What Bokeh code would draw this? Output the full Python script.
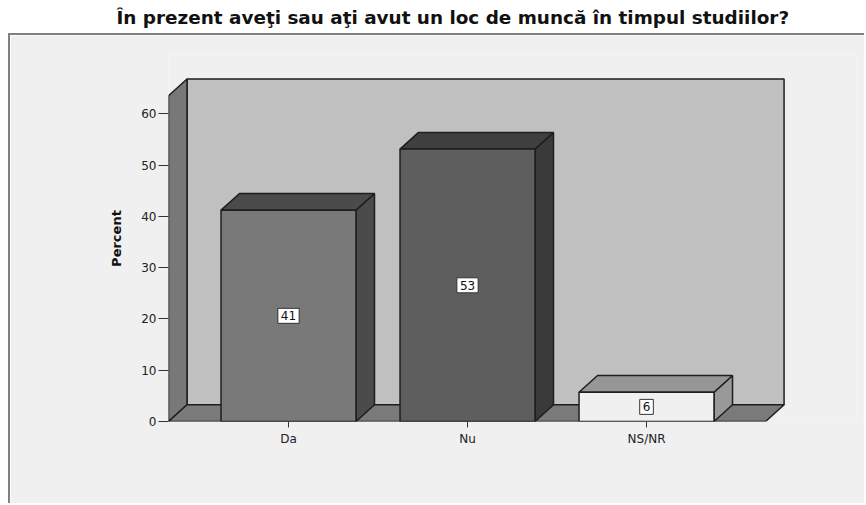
from bokeh.plotting import figure
from bokeh.layouts import column
from bokeh.models import Range1d, FixedTicker, Label
from bokeh.embed import file_html
from bokeh.resources import INLINE

# ---- data ----
title_text = "În prezent aveţi sau aţi avut un loc de muncă în timpul studiilor?"
categories = ["Da", "Nu", "NS/NR"]
percent = [41.2, 53.1, 5.7]
value_labels = ["41", "53", "6"]
y_ticks = [0, 10, 20, 30, 40, 50, 60]
axis_top = 63.5

# ---- style ----
front_colors = ["#797979", "#5e5e5e", "#f0f0f0"]
top_colors = ["#4b4b4b", "#404040", "#969696"]
side_colors = ["#4b4b4b", "#3a3a3a", "#999999"]
BG = "#f0f0f0"
EDGE = "#1e1e1e"
FONT = "DejaVu Sans"

BAR_W = 0.754
DX = 0.1034
DY = 3.26
X_LO = -0.6704
X_HI = 2.665

# ---- title strip ----
pt = figure(width=866, height=33, title=title_text,
            toolbar_location=None, output_backend="svg", min_border=0,
            x_axis_type=None, y_axis_type=None)
pt.grid.visible = False
pt.outline_line_color = None
pt.background_fill_color = "white"
pt.border_fill_color = "white"
pt.title.align = "left"
pt.title.offset = -42
pt.title.text_font = FONT
pt.title.text_font_style = "bold"
pt.title.text_font_size = "18.4px"
pt.title.text_color = "#111111"
pt.title.standoff = 9

# ---- main chart ----
p = figure(width=856, height=470, x_range=Range1d(-0.6704, 3.173), y_range=Range1d(0, 71.35),
           toolbar_location=None, output_backend="svg",
           min_border_left=158, min_border_right=10, min_border_top=20, min_border_bottom=84)
p.styles = {"margin-left": "8px", "border-left": "2px solid #808080",
            "border-top": "2px solid #808080"}
p.background_fill_color = BG
p.border_fill_color = BG
p.outline_line_color = None
p.grid.visible = False

xs_idx = list(range(len(categories)))

# back wall, left wall, floor
p.patch([X_LO + DX, X_HI + DX, X_HI + DX, X_LO + DX], [DY, DY, axis_top + DY, axis_top + DY],
        fill_color="#c0c0c0", line_color=EDGE, line_width=1.5)
p.patch([X_LO, X_LO + DX, X_LO + DX, X_LO], [0, DY, axis_top + DY, axis_top],
        fill_color="#787878", line_color=EDGE, line_width=1.5)
p.patch([X_LO, X_HI, X_HI + DX, X_LO + DX], [0, 0, DY, DY],
        fill_color="#7a7a7a", line_color=EDGE, line_width=1.5)

for i, v in zip(xs_idx, percent):
    l, r = i - BAR_W / 2, i + BAR_W / 2
    p.patch([r, r + DX, r + DX, r], [0, DY, v + DY, v],
            fill_color=side_colors[i], line_color=EDGE, line_width=1.5)
    p.patch([l, r, r + DX, l + DX], [v, v, v + DY, v + DY],
            fill_color=top_colors[i], line_color=EDGE, line_width=1.5)
    p.quad(left=[l], right=[r], bottom=[0], top=[v],
           fill_color=front_colors[i], line_color=EDGE, line_width=1.5)
    p.add_layout(Label(x=i, y=v / 2, text=value_labels[i], text_align="center",
                       text_baseline="middle", text_font=FONT, text_font_size="12px",
                       text_color="#111111", background_fill_color="white",
                       border_line_color="#333333", border_line_width=1, padding=3))

# axes
xa = p.xaxis[0]
xa.ticker = FixedTicker(ticks=xs_idx)
xa.major_label_overrides = {i: c for i, c in zip(xs_idx, categories)}
xa.axis_line_color = None
xa.major_tick_out = 6
xa.major_tick_in = 0
xa.major_tick_line_color = "#333333"
xa.minor_tick_line_color = None
xa.major_label_standoff = 4
xa.major_label_text_font = FONT
xa.major_label_text_font_size = "12px"
xa.major_label_text_color = "#222222"

ya = p.yaxis[0]
ya.ticker = FixedTicker(ticks=y_ticks)
ya.axis_line_color = None
ya.major_tick_out = 10
ya.major_tick_in = 0
ya.major_tick_line_color = "#333333"
ya.minor_tick_line_color = None
ya.major_label_standoff = 2
ya.major_label_text_font = FONT
ya.major_label_text_font_size = "12px"
ya.major_label_text_color = "#222222"
ya.axis_label = "Percent"
ya.axis_label_text_font = FONT
ya.axis_label_text_font_style = "bold"
ya.axis_label_text_font_size = "13px"
ya.axis_label_text_color = "#111111"
ya.axis_label_standoff = 14

layout = column(pt, p, spacing=0)
open("out.html", "w").write(file_html(layout, INLINE))
